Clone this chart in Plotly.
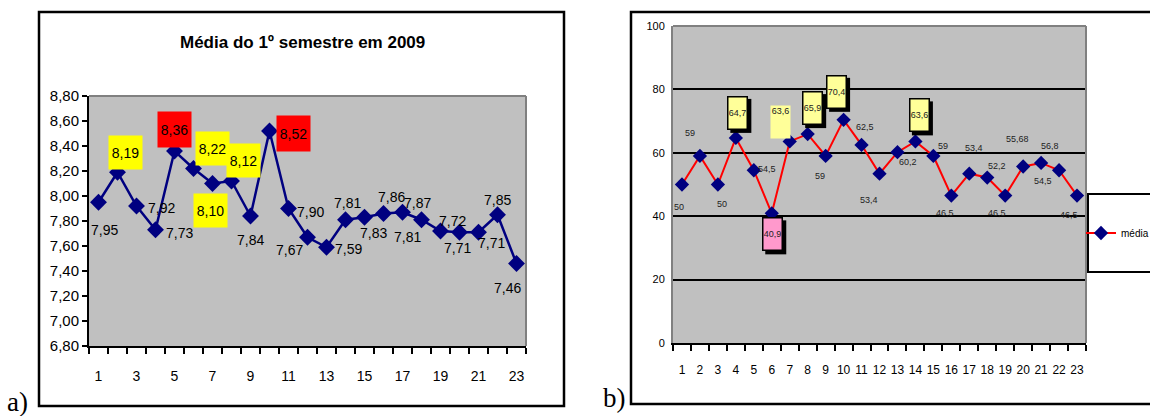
import plotly.graph_objects as go

W, H = 1150, 416

# ---- data -------------------------------------------------------------
semana = list(range(1, 24))
media_a = [7.95, 8.19, 7.92, 7.73, 8.36, 8.22, 8.10, 8.12, 7.84, 8.52, 7.90, 7.67,
           7.59, 7.81, 7.83, 7.86, 7.87, 7.81, 7.72, 7.71, 7.71, 7.85, 7.46]
media_b = [50, 59, 50, 64.7, 54.5, 40.9, 63.6, 65.9, 59, 70.4, 62.5, 53.4,
           60.2, 63.6, 59, 46.5, 53.4, 52.2, 46.5, 55.68, 56.8, 54.5, 46.5]
ticks_a = list(range(1, 24, 2))
ticks_b = semana
titulo_a = "Média do 1º semestre em 2009"
nome_b = "média"

# ---- label placement (pixel offsets from each point) and box styles ----
# (dx, dy, box) ; dy positive = downwards ; box: None, "y" yellow, "r" red
lab_a = [(6, 28, None), (8, -20, "y"), (25, 2, None), (24, 3, None), (0, -22, "r"),
         (19, -20, "y"), (-2, 27, "y"), (12, -21, "y"), (0, 24, None), (24, 2, "r"),
         (22, 3, None), (-18, 13, None), (22, 2, None), (2, -17, None), (9, 16, None),
         (8, -17, None), (15, -9, None), (-14, 17, None), (12, -10, None), (-2, 16, None),
         (13, 11, None), (0, -15, None), (-9, 24, None)]
# box: None, "c" cream with border + shadow, "p" pink with border + shadow, "f" flat cream
lab_b = [(-3, 22, None), (-10, -23, None), (4, 19, None), (2, -25, "c"), (13, -1, None),
         (1, 21, "p"), (-9, -19, "f"), (5, -26, "c"), (-6, 20, None), (-7, -28, "c"),
         (3, -18, None), (-11, 26, None), (11, 10, None), (4, -26, "c"), (10, -10, None),
         (-6, 17, None), (5, -26, None), (10, -12, None), (-8, 17, None), (-6, -27, None),
         (9, -17, None), (-16, 11, None), (-8, 19, None)]

FONT = "Liberation Sans, Arial, sans-serif"
NAVY = "#000080"


def px(x):
    return x / W


def py(y):
    return 1 - y / H


def fmt(v, dec=None):
    s = f"{v:.{dec}f}" if dec is not None else f"{v:g}"
    return s.replace(".", ",")


fig = go.Figure()

fig.add_trace(go.Scatter(
    x=semana, y=media_a, mode="lines+markers", xaxis="x", yaxis="y",
    line=dict(color=NAVY, width=2.5),
    marker=dict(symbol="diamond", size=13, color=NAVY),
    showlegend=False, cliponaxis=False, hoverinfo="x+y"))

fig.add_trace(go.Scatter(
    x=semana, y=media_b, mode="lines+markers", xaxis="x2", yaxis="y2",
    name=nome_b, line=dict(color="#FF0000", width=2),
    marker=dict(symbol="diamond", size=11, color=NAVY),
    showlegend=True, cliponaxis=False))

shapes = []
annotations = []

# outer frames
shapes.append(dict(type="rect", xref="paper", yref="paper",
                   x0=px(39), x1=px(564), y0=py(406), y1=py(12),
                   line=dict(color="black", width=2.5), layer="below"))
shapes.append(dict(type="rect", xref="paper", yref="paper",
                   x0=px(631), x1=px(1160), y0=py(404), y1=py(12),
                   line=dict(color="black", width=2.5), layer="below"))

# grey plot-area borders (top and right)
for xr, yr in (("x domain", "y domain"), ("x2 domain", "y2 domain")):
    shapes.append(dict(type="line", xref=xr, yref=yr, x0=0, x1=1, y0=1, y1=1,
                       line=dict(color="#808080", width=2), layer="above"))
    shapes.append(dict(type="line", xref=xr, yref=yr, x0=1, x1=1, y0=0, y1=1,
                       line=dict(color="#808080", width=2), layer="above"))

# legend box
shapes.append(dict(type="rect", xref="paper", yref="paper",
                   x0=px(1088), x1=px(1160), y0=py(272), y1=py(194),
                   fillcolor="white", line=dict(color="black", width=2), layer="above"))

# title of panel a
annotations.append(dict(xref="paper", yref="paper", x=px(302), y=py(43),
                        xanchor="center", yanchor="middle",
                        text=f"<b>{titulo_a}</b>", showarrow=False,
                        font=dict(family=FONT, size=17, color="black")))

# panel tags
annotations.append(dict(xref="paper", yref="paper", x=px(17), y=py(402),
                        xanchor="center", yanchor="middle",
                        text="a)", showarrow=False,
                        font=dict(family="Liberation Serif, Times New Roman, serif",
                                  size=27, color="black")))
annotations.append(dict(xref="paper", yref="paper", x=px(614), y=py(398),
                        xanchor="center", yanchor="middle",
                        text="b)", showarrow=False,
                        font=dict(family="Liberation Serif, Times New Roman, serif",
                                  size=27, color="black")))

# value labels, panel a
box_a = {"y": "#FFFF00", "r": "#FF0000"}
for x, v, (dx, dy, box) in zip(semana, media_a, lab_a):
    a = dict(xref="x", yref="y", x=x, y=v, xshift=dx, yshift=-dy,
             xanchor="center", yanchor="middle",
             text=fmt(v, 2), showarrow=False,
             font=dict(family=FONT, size=14, color="black"))
    if box:
        a.update(bgcolor=box_a[box], width=31, height=31 if box == "y" else 33,
                 borderpad=1)
    annotations.append(a)

# value labels, panel b
for x, v, (dx, dy, box) in zip(semana, media_b, lab_b):
    a = dict(xref="x2", yref="y2", x=x, y=v, xshift=dx, yshift=-dy,
             xanchor="center", yanchor="middle",
             text=fmt(v), showarrow=False,
             font=dict(family=FONT, size=9, color="#222222"))
    if box in ("c", "p"):
        w, h = 21, 34
        a.update(bgcolor="#FFFF99" if box == "c" else "#FF99CC",
                 bordercolor="black", borderwidth=1.5, borderpad=0,
                 width=w - 3, height=h - 3)
        # drop shadow
        shapes.append(dict(type="rect", xref="x2", yref="y2",
                           xsizemode="pixel", ysizemode="pixel",
                           xanchor=x, yanchor=v,
                           x0=dx - w / 2 + 3, x1=dx + w / 2 + 3,
                           y0=-(dy + h / 2 + 3), y1=-(dy - h / 2 + 3),
                           fillcolor="black", line=dict(width=0), layer="above"))
    elif box == "f":
        a.update(bgcolor="#FFFF99", width=19, height=32, borderpad=0, valign="top")
    annotations.append(a)

bounds = [i + 0.5 for i in range(0, 24)]

fig.update_layout(
    width=W, height=H,
    margin=dict(l=0, r=0, t=0, b=0, pad=0, autoexpand=False),
    paper_bgcolor="white", plot_bgcolor="#C0C0C0",
    separators=",.",
    font=dict(family=FONT, color="black"),
    shapes=shapes, annotations=annotations,
    legend=dict(x=px(1081), y=py(233), xanchor="left", yanchor="middle",
                bgcolor="rgba(0,0,0,0)", borderwidth=0, itemwidth=30,
                font=dict(family=FONT, size=10, color="black")),
    xaxis=dict(domain=[px(89), px(526)], anchor="y", range=[0.5, 23.5],
               tickvals=ticks_a, ticks="outside", ticklen=16,
               tickcolor="rgba(0,0,0,0)",
               minor=dict(tickvals=bounds, ticks="outside", ticklen=6,
                          tickwidth=2, tickcolor="black", showgrid=False),
               showline=True, linecolor="black", linewidth=2,
               showgrid=False, zeroline=False,
               tickfont=dict(family=FONT, size=14, color="black")),
    yaxis=dict(domain=[py(346), py(96)], anchor="x", range=[6.8, 8.8],
               tick0=6.8, dtick=0.2, tickformat=".2f",
               ticks="outside", ticklen=5, tickwidth=2, tickcolor="black",
               showline=True, linecolor="black", linewidth=2,
               showgrid=False, zeroline=False,
               tickfont=dict(family=FONT, size=15, color="black")),
    xaxis2=dict(domain=[px(673), px(1086)], anchor="y2", range=[0.5, 23.5],
                tickvals=ticks_b, ticks="outside", ticklen=15,
                tickcolor="rgba(0,0,0,0)",
                minor=dict(tickvals=bounds, ticks="outside", ticklen=6,
                           tickwidth=2, tickcolor="black", showgrid=False),
                showline=True, linecolor="black", linewidth=2,
                showgrid=False, zeroline=False,
                tickfont=dict(family=FONT, size=12, color="black")),
    yaxis2=dict(domain=[py(343), py(26)], anchor="x2", range=[0, 100],
                tick0=0, dtick=20, ticks="outside", ticklen=4,
                tickcolor="rgba(0,0,0,0)",
                showline=True, linecolor="#808080", linewidth=2,
                showgrid=True, gridcolor="black", gridwidth=1.5,
                zeroline=False,
                tickfont=dict(family=FONT, size=11, color="black")),
)

fig.write_html("out.html")
